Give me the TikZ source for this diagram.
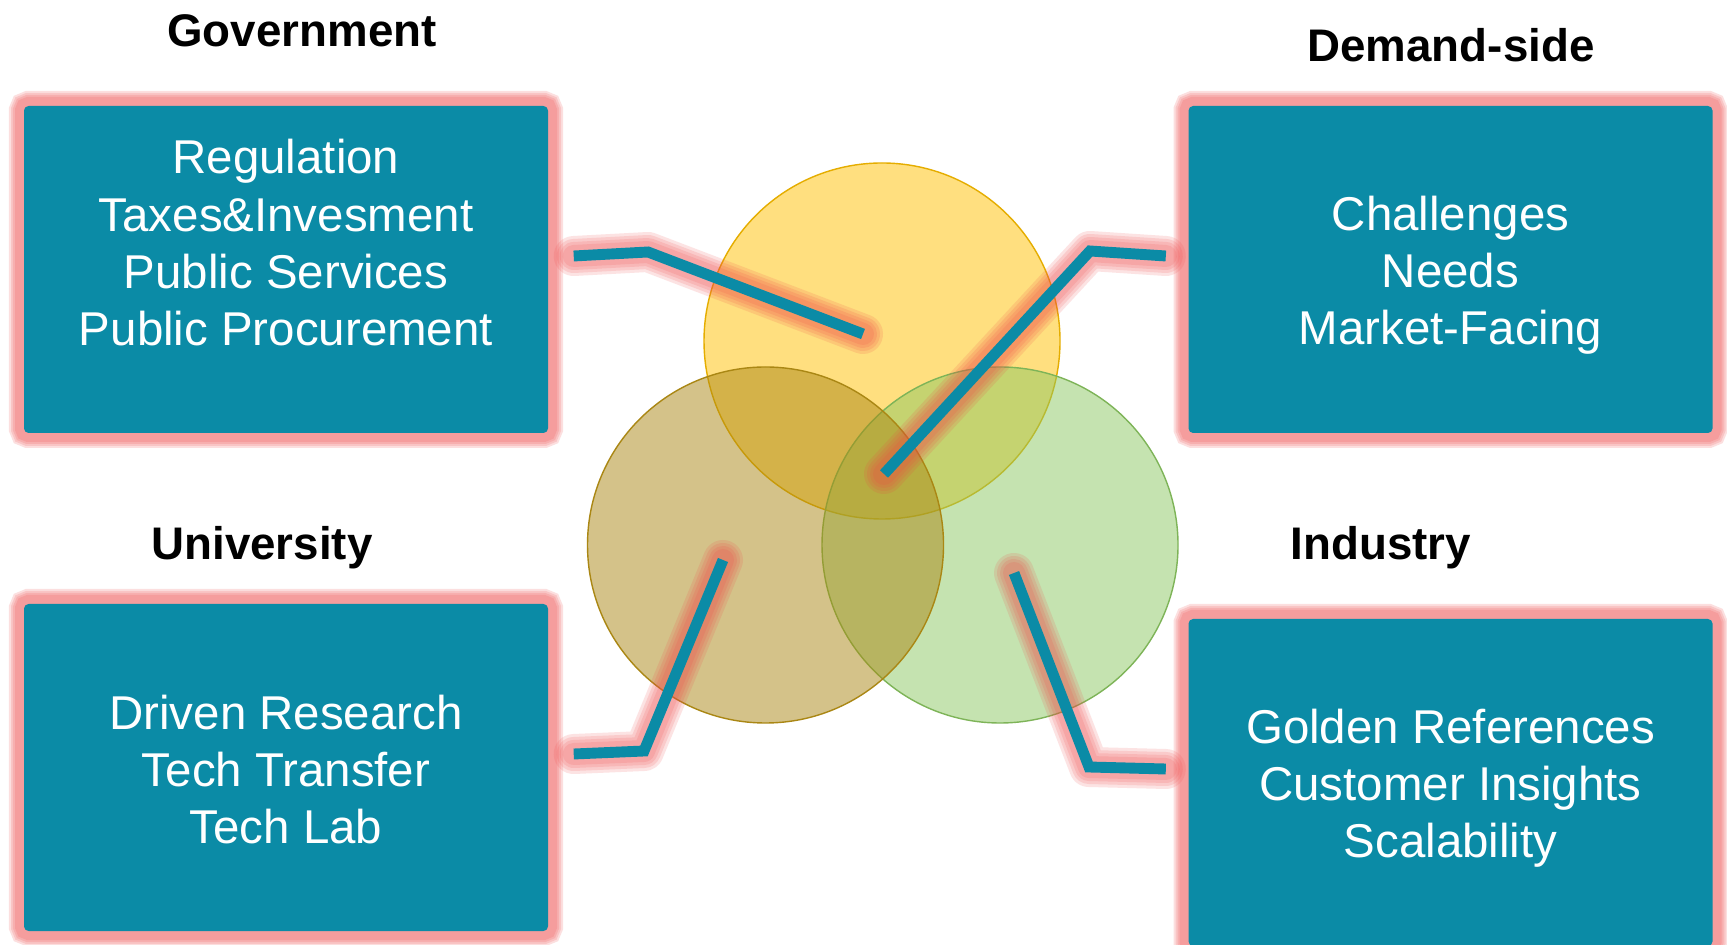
\documentclass[tikz,border=0pt]{standalone}
\usepackage{fontspec}
\setmainfont{Liberation Sans}
\usepackage{tikz}
\definecolor{vnteal}{RGB}{11,139,166}
\definecolor{vnglow}{RGB}{240,70,70}
\definecolor{vngold}{RGB}{255,192,0}
\definecolor{vnolive}{RGB}{170,135,20}
\definecolor{vngreen}{RGB}{140,200,98}
\tikzset{
  glowbox/.style={fill=vnteal, rounded corners=1.3pt, text=white, align=center,
    minimum width=5.24cm, minimum height=3.27cm, inner sep=0pt,
    font=\fontsize{13.5}{16.3}\selectfont,
    preaction={draw=vnglow, draw opacity=0.17, line width=0.30cm},
    preaction={draw=vnglow, draw opacity=0.17, line width=0.26cm},
    preaction={draw=vnglow, draw opacity=0.17, line width=0.22cm},
    preaction={draw=vnglow, draw opacity=0.17, line width=0.18cm}},
  heading/.style={anchor=base, font=\fontsize{13}{15}\selectfont\bfseries},
  link/.style={draw=vnteal, line width=3.1pt}
}
\begin{document}
\begin{tikzpicture}
\useasboundingbox (0,0) rectangle (17.27,9.44);
\fill[white] (0,0) rectangle (17.27,9.44);
% Titles
\node[heading] (govtitle) at (3.02,8.97) {Government};
\node[heading] (demtitle) at (14.51,8.82) {Demand-side};
\node[heading] (unititle) at (2.62,3.84) {University};
\node[heading] (indtitle) at (13.81,3.84) {Industry};
% Boxes
\node[glowbox] (gov) at (2.86,6.745)
  {\rule{0pt}{15.6pt}Regulation\\Taxes\&Invesment\\Public Services\\Public Procurement\\\strut};
\node[glowbox] (demand) at (14.505,6.745)
  {\rule{0pt}{13pt}Challenges\\Needs\\Market-Facing};
\node[glowbox] (univ) at (2.86,1.765)
  {\rule{0pt}{11pt}Driven Research\\Tech Transfer\\Tech Lab};
\node[glowbox] (industry) at (14.505,1.615)
  {\rule{0pt}{13pt}Golden References\\Customer Insights\\Scalability};
% Circles (top, right, left)
\filldraw[fill=vngold, fill opacity=0.5, draw=vngold!90!black, line width=0.4pt]
  (8.82,6.03) circle (1.78);
\filldraw[fill=vngreen, fill opacity=0.5, draw=vngreen!90!black, line width=0.4pt]
  (10.00,3.99) circle (1.78);
\filldraw[fill=vnolive, fill opacity=0.5, draw=vnolive, line width=0.4pt]
  (7.655,3.99) circle (1.78);
% Connector points
\coordinate (govout) at ([xshift=0.25cm,yshift=0.135cm]gov.east);
\coordinate (govbend) at (6.48,6.92);
\coordinate (govpin) at (8.63,6.10);
\coordinate (demout) at ([xshift=-0.22cm,yshift=0.135cm]demand.west);
\coordinate (dembend) at (10.90,6.93);
\coordinate (dempin) at (8.84,4.70);
\coordinate (uniout) at ([xshift=0.25cm,yshift=0.135cm]univ.east);
\coordinate (unibend) at (6.44,1.93);
\coordinate (unipin) at (7.23,3.84);
\coordinate (indout) at ([xshift=-0.22cm,yshift=0.135cm]industry.west);
\coordinate (indbend) at (10.89,1.77);
\coordinate (indpin) at (10.14,3.71);
% Connectors: glow, then teal line
\foreach \a/\b/\c in {govout/govbend/govpin, demout/dembend/dempin,
                      uniout/unibend/unipin, indout/indbend/indpin} {
  \foreach \w in {0.40,0.34,0.28,0.22}
    \draw[vnglow, opacity=0.15, line width=\w cm, line cap=round, line join=round]
      (\a) -- (\b) -- (\c);
  \draw[link] (\a) -- (\b) -- (\c);
}
\end{tikzpicture}
\end{document}
